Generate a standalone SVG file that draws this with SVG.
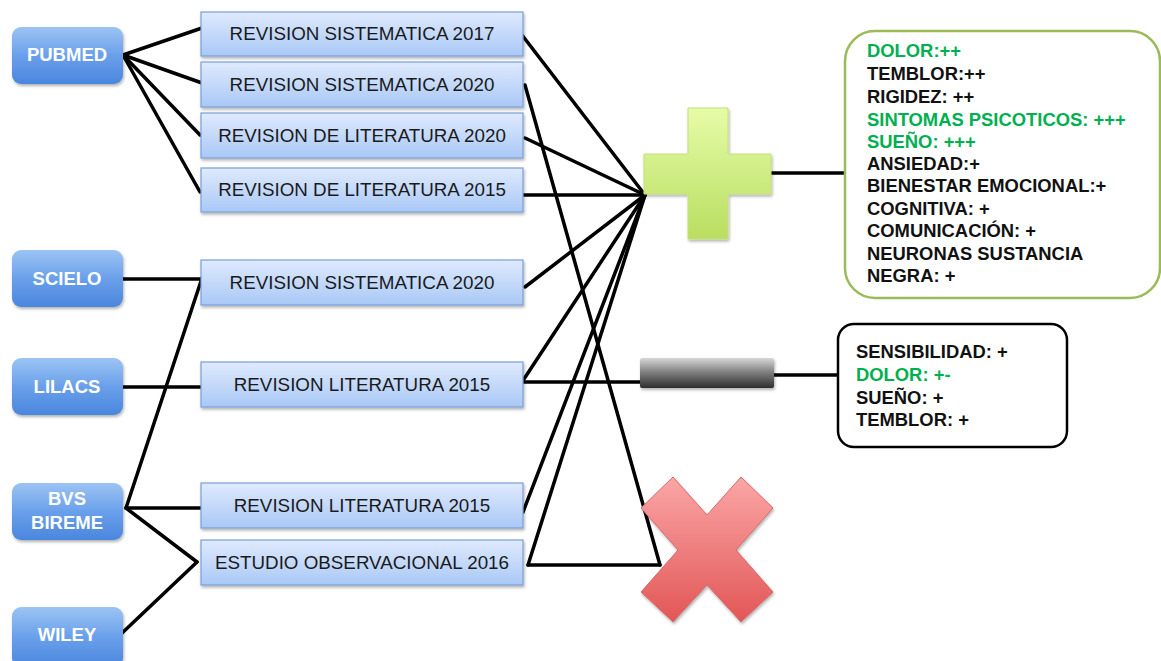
<svg xmlns="http://www.w3.org/2000/svg" width="1161" height="661" viewBox="0 0 1161 661">
<defs>
<linearGradient id="gSrc" x1="0" y1="0" x2="0" y2="1">
<stop offset="0" stop-color="#9cc4f4"/><stop offset="0.5" stop-color="#6aa0ea"/><stop offset="1" stop-color="#4a86de"/>
</linearGradient>
<linearGradient id="gStudy" x1="0" y1="0" x2="0" y2="1">
<stop offset="0" stop-color="#dfeafd"/><stop offset="1" stop-color="#a9c8f6"/>
</linearGradient>
<linearGradient id="gPlus" x1="0" y1="0" x2="0" y2="1">
<stop offset="0" stop-color="#e6fca8"/><stop offset="1" stop-color="#b8de60"/>
</linearGradient>
<linearGradient id="gMinus" x1="0" y1="0" x2="0" y2="1">
<stop offset="0" stop-color="#d8d8d8"/><stop offset="0.5" stop-color="#7a7a7a"/><stop offset="1" stop-color="#2e2e2e"/>
</linearGradient>
<linearGradient id="gX" x1="0" y1="0" x2="0" y2="1">
<stop offset="0" stop-color="#fba6a6"/><stop offset="1" stop-color="#e25656"/>
</linearGradient>
<filter id="sh" x="-10%" y="-10%" width="130%" height="140%">
<feDropShadow dx="1" dy="2" stdDeviation="1.5" flood-color="#000" flood-opacity="0.3"/>
</filter>
</defs>
<style>
.src rect{fill:url(#gSrc);filter:url(#sh)}
.src text{font-family:"Liberation Sans",Arial,sans-serif;font-weight:bold;font-size:18.5px;fill:#fff;text-anchor:middle}
.st rect{fill:url(#gStudy);stroke:#7b9fd6;stroke-width:1.2;filter:url(#sh)}
.st text{font-family:"Liberation Sans",Arial,sans-serif;font-size:18.8px;fill:#1a1a1a;text-anchor:middle}
.conn line{stroke:#000;stroke-width:3.5;stroke-linecap:round}
.res text{font-family:"Liberation Sans",Arial,sans-serif;font-weight:bold;font-size:18.4px;fill:#111}
.res .g{fill:#00b050}
</style>
<rect width="1161" height="661" fill="#fff"/>

<g id="connectors" class="conn">
<line x1="123" y1="55" x2="202" y2="28"/>
<line x1="123" y1="55" x2="202" y2="83"/>
<line x1="123" y1="55" x2="200" y2="135"/>
<line x1="123" y1="55" x2="200" y2="192"/>
<line x1="123" y1="279" x2="202" y2="279"/>
<line x1="126" y1="508" x2="202" y2="278"/>
<line x1="123" y1="387" x2="201" y2="387"/>
<line x1="126" y1="508" x2="201" y2="508"/>
<line x1="126" y1="508" x2="197" y2="562"/>
<line x1="120" y1="635" x2="197" y2="562"/>
<line x1="522" y1="35" x2="645" y2="195"/>
<line x1="525" y1="85" x2="660" y2="565"/>
<line x1="525" y1="138" x2="645" y2="195"/>
<line x1="522" y1="195" x2="645" y2="195"/>
<line x1="525" y1="287" x2="645" y2="195"/>
<line x1="522" y1="382" x2="645" y2="195"/>
<line x1="522" y1="382" x2="641" y2="382"/>
<line x1="523" y1="512" x2="645" y2="195"/>
<line x1="528" y1="565" x2="645" y2="195"/>
<line x1="528" y1="565" x2="660" y2="565"/>
<line x1="770" y1="173" x2="845" y2="173"/>
<line x1="773" y1="375" x2="838" y2="375"/>
</g>

<g id="pubmed" class="src"><rect x="12" y="27" width="111" height="57" rx="9"/><text x="67" y="61">PUBMED</text></g>
<g id="scielo" class="src"><rect x="12" y="250" width="111" height="57" rx="9"/><text x="67" y="285">SCIELO</text></g>
<g id="lilacs" class="src"><rect x="12" y="358" width="111" height="57" rx="9"/><text x="67" y="393">LILACS</text></g>
<g id="bvs" class="src"><rect x="12" y="483" width="111" height="57" rx="9"/><text x="67" y="505">BVS</text><text x="67" y="529">BIREME</text></g>
<g id="wiley" class="src"><rect x="12" y="607" width="111" height="60" rx="9"/><text x="67" y="641">WILEY</text></g>

<g id="s1" class="st"><rect x="201" y="12" width="322" height="44"/><text x="362" y="40">REVISION SISTEMATICA 2017</text></g>
<g id="s2" class="st"><rect x="201" y="62" width="322" height="45"/><text x="362" y="91">REVISION SISTEMATICA 2020</text></g>
<g id="s3" class="st"><rect x="201" y="113" width="322" height="45"/><text x="362" y="142">REVISION DE LITERATURA 2020</text></g>
<g id="s4" class="st"><rect x="201" y="168" width="322" height="44"/><text x="362" y="196">REVISION DE LITERATURA 2015</text></g>
<g id="s5" class="st"><rect x="201" y="260" width="322" height="45"/><text x="362" y="289">REVISION SISTEMATICA 2020</text></g>
<g id="s6" class="st"><rect x="201" y="362" width="322" height="45"/><text x="362" y="391">REVISION LITERATURA 2015</text></g>
<g id="s7" class="st"><rect x="201" y="483" width="322" height="45"/><text x="362" y="512">REVISION LITERATURA 2015</text></g>
<g id="s8" class="st"><rect x="201" y="540" width="322" height="45"/><text x="362" y="569">ESTUDIO OBSERVACIONAL 2016</text></g>

<g id="plus"><path d="M688 108 H728 V154 H771 V194 H728 V239 H688 V194 H644 V154 H688 Z" fill="url(#gPlus)" stroke="#c4e07a" stroke-width="1" filter="url(#sh)"/></g>
<g id="minus"><rect x="640" y="358" width="134" height="30" rx="2" fill="url(#gMinus)" filter="url(#sh)"/></g>
<g id="cross"><polygon points="673,477 707,515 741,477 773,508 736,550 773,592 741,622 707,585 673,622 641,592 678,550 641,508" fill="url(#gX)" stroke="#d86a6a" stroke-width="1" filter="url(#sh)"/></g>

<g id="positive" class="res">
<rect x="845" y="31" width="315" height="267" rx="30" fill="#fff" stroke="#9bbb59" stroke-width="2.5"/>
<text x="867" y="57" class="g">DOLOR:++</text>
<text x="867" y="80">TEMBLOR:++</text>
<text x="867" y="103">RIGIDEZ: ++</text>
<text x="867" y="126" class="g">SINTOMAS PSICOTICOS: +++</text>
<text x="867" y="148" class="g">SUEÑO: +++</text>
<text x="867" y="170">ANSIEDAD:+</text>
<text x="867" y="192">BIENESTAR EMOCIONAL:+</text>
<text x="867" y="215">COGNITIVA: +</text>
<text x="867" y="237">COMUNICACIÓN: +</text>
<text x="867" y="260">NEURONAS SUSTANCIA</text>
<text x="867" y="282">NEGRA: +</text>
</g>

<g id="neutral" class="res">
<rect x="838" y="324" width="229" height="123" rx="16" fill="#fff" stroke="#000" stroke-width="2.5"/>
<text x="856" y="358">SENSIBILIDAD: +</text>
<text x="856" y="381" class="g">DOLOR: +-</text>
<text x="856" y="404">SUEÑO: +</text>
<text x="856" y="426">TEMBLOR: +</text>
</g>
</svg>
